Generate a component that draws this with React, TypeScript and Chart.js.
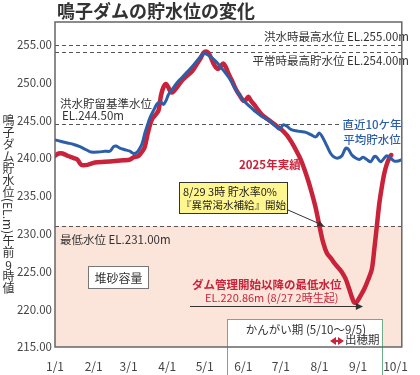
import React, { useEffect, useRef } from "react";
import { Chart, registerables } from "chart.js";

Chart.register(...registerables);

const JP = '"Noto Sans CJK JP", "Noto Sans", sans-serif';

// x axis: day of year (1/1 = 0)
const monthDays = [0, 31, 59, 90, 120, 151, 181, 212, 243, 273];
const monthLabels = ["1/1", "2/1", "3/1", "4/1", "5/1", "6/1", "7/1", "8/1", "9/1", "10/1"];
const yTickValues = [215, 220, 225, 230, 235, 240, 245, 250, 255];

// 2025 actual water level (EL.m)
const actualDays = [0, 3, 6, 10, 15, 18, 21, 26, 32, 40, 48, 55, 60, 63, 67, 70, 72, 74, 76, 78, 81, 83, 85, 87, 89, 91, 93, 95, 98, 102, 106, 110, 114, 117, 119, 121, 123, 125, 127, 129, 131, 133, 135, 137, 139, 142, 145, 148, 151, 153, 155, 157, 160, 163, 166, 170, 174, 178, 182, 186, 190, 194, 197, 200, 203, 206, 209, 212, 215, 218, 221, 224, 227, 230, 233, 236, 238, 240, 242, 245, 248, 251, 254, 256, 258, 260, 262, 264, 266, 268, 269.5];
const actualLevels = [240.3, 240.6, 240.6, 240.3, 240.0, 239.8, 239.1, 239.1, 239.4, 239.5, 239.6, 239.7, 239.8, 240.1, 240.3, 240.9, 241.5, 243.0, 244.3, 245.2, 245.8, 246.3, 248.3, 249.4, 249.8, 249.3, 248.7, 248.8, 249.4, 250.3, 250.9, 251.5, 252.5, 253.3, 253.9, 254.1, 253.9, 253.3, 252.5, 252.0, 251.8, 252.2, 252.5, 252.0, 251.2, 250.2, 249.1, 248.3, 247.6, 247.7, 248.1, 247.6, 247.0, 246.3, 245.7, 245.2, 244.7, 244.2, 243.7, 243.0, 242.0, 240.8, 239.8, 238.5, 237.0, 235.3, 233.4, 231.0, 228.8, 227.4, 226.8, 226.1, 225.5, 224.9, 224.0, 222.6, 221.6, 220.86, 221.0, 221.8, 222.7, 223.9, 225.3, 228.0, 231.0, 234.0, 236.2, 238.0, 239.2, 240.0, 240.4];

// recent 10-year average water level (EL.m)
const avgDays = [0, 5, 10, 15, 20, 25, 29, 35, 40, 44, 47, 49, 52, 56, 60, 63, 66, 68, 70, 72, 74, 76, 79, 82, 85, 87, 89, 91, 94, 98, 102, 106, 110, 114, 117, 119, 121, 124, 127, 130, 133, 136, 140, 143, 146, 149, 153, 157, 161, 165, 169, 173, 177, 180, 183, 186, 189, 193, 197, 201, 205, 209, 212, 215, 218, 221, 224, 227, 230, 233, 235, 238, 241, 244, 247, 250, 253, 256, 258, 261, 264, 266, 269, 272, 275, 278];
const avgLevels = [242.4, 242.2, 242.0, 241.8, 241.5, 241.1, 240.8, 240.8, 240.9, 240.9, 241.5, 241.6, 241.3, 241.1, 240.9, 240.6, 240.8, 241.3, 242.0, 243.3, 244.3, 245.3, 246.3, 247.2, 247.4, 247.1, 247.6, 248.4, 249.1, 250.0, 250.7, 251.4, 252.1, 252.9, 253.5, 253.8, 253.8, 253.5, 253.1, 252.6, 252.0, 251.4, 250.5, 249.6, 248.8, 248.1, 247.3, 246.7, 246.1, 245.6, 245.2, 244.8, 244.2, 243.8, 244.4, 244.2, 243.8, 243.6, 243.5, 243.4, 243.1, 242.8, 243.3, 242.6, 241.6, 240.6, 240.1, 240.0, 240.3, 241.3, 241.2, 240.4, 240.0, 239.8, 240.1, 239.8, 239.5, 240.2, 240.1, 239.5, 240.0, 240.3, 240.0, 239.6, 239.6, 239.8];

// reference levels (EL.m)
const refLevels = [255, 254, 244.5, 231];
const lowLevel = 231;

const TITLE = "鳴子ダムの貯水位の変化";

function txt(ctx: CanvasRenderingContext2D, s: string, x: number, y: number, font: string, color: string, align: CanvasTextAlign = "left") {
  ctx.font = font;
  ctx.fillStyle = color;
  ctx.textAlign = align;
  ctx.textBaseline = "middle";
  ctx.fillText(s, x, y);
}

function arrowHead(ctx: CanvasRenderingContext2D, x1: number, y1: number, x2: number, y2: number, size: number, color: string) {
  const ang = Math.atan2(y2 - y1, x2 - x1);
  ctx.fillStyle = color;
  ctx.beginPath();
  ctx.moveTo(x2, y2);
  ctx.lineTo(x2 - size * Math.cos(ang - 0.45), y2 - size * Math.sin(ang - 0.45));
  ctx.lineTo(x2 - size * Math.cos(ang + 0.45), y2 - size * Math.sin(ang + 0.45));
  ctx.closePath();
  ctx.fill();
}

const decor = {
  id: "decor",
  beforeDraw(chart: any) {
    const { ctx, chartArea: a, scales } = chart;
    const y = scales.y;
    ctx.save();
    const yLow = y.getPixelForValue(lowLevel);
    ctx.fillStyle = "#fbe5da";
    ctx.fillRect(a.left, yLow, a.right - a.left, a.bottom - yLow);
    // irrigation box
    ctx.fillStyle = "#ffffff";
    ctx.fillRect(227, 319, 155, 60);
    ctx.strokeStyle = "#6dae88";
    ctx.lineWidth = 1;
    ctx.strokeRect(227.5, 319.5, 155, 60);
    ctx.restore();
  },
  beforeDatasetsDraw(chart: any) {
    const { ctx, chartArea: a, scales } = chart;
    const y = scales.y;
    ctx.save();
    ctx.setLineDash([4, 3]);
    ctx.strokeStyle = "#555";
    ctx.lineWidth = 1.2;
    refLevels.forEach((v) => {
      const py = Math.round(y.getPixelForValue(v)) + 0.5;
      ctx.beginPath();
      ctx.moveTo(a.left, py);
      ctx.lineTo(a.right, py);
      ctx.stroke();
    });
    ctx.setLineDash([]);
    ctx.fillStyle = "#fff";
    ctx.fillRect(341, 119, 61, 10);
    ctx.restore();
  },
  afterDatasetsDraw(chart: any) {
    const { ctx, chartArea: a } = chart;
    ctx.save();
    const f = (s: number, w = "normal") => `${w} ${s}px ${JP}`;
    txt(ctx, "洪水時最高水位 EL.255.00m", 409, 37, f(11.5), "#333", "right");
    txt(ctx, "平常時最高貯水位 EL.254.00m", 409, 61, f(11.5), "#333", "right");
    txt(ctx, "洪水貯留基準水位", 60, 104, f(11.5), "#333");
    txt(ctx, "EL.244.50m", 62, 116, f(11.5), "#333");
    txt(ctx, "直近10ケ年", 372, 125, f(11.5, "500"), "#2c5fa8", "center");
    txt(ctx, "平均貯水位", 372, 140, f(11.5, "500"), "#2c5fa8", "center");
    txt(ctx, "2025年実績", 239, 165, f(11.5, "bold"), "#c8233a");
    txt(ctx, "最低水位 EL.231.00m", 60, 240, f(11.5), "#333");

    // yellow box
    ctx.fillStyle = "#fff68f";
    ctx.fillRect(179.5, 182.5, 108, 31);
    ctx.strokeStyle = "#333";
    ctx.lineWidth = 1;
    ctx.strokeRect(179.5, 182.5, 108, 31);
    txt(ctx, "8/29 3時 貯水率0%", 183, 192, f(11), "#222");
    txt(ctx, "『異常渇水補給』開始", 181, 205, f(10.5), "#222");
    ctx.strokeStyle = "#333";
    ctx.lineWidth = 1;
    ctx.beginPath();
    ctx.moveTo(288, 210);
    ctx.lineTo(320, 224);
    ctx.stroke();
    arrowHead(ctx, 288, 210, 324, 226, 7, "#333");

    // sediment box
    ctx.fillStyle = "#fff";
    ctx.fillRect(88.5, 266.5, 60, 22);
    ctx.strokeStyle = "#777";
    ctx.strokeRect(88.5, 266.5, 60, 22);
    txt(ctx, "堆砂容量", 118.5, 278, f(12), "#333", "center");

    txt(ctx, "ダム管理開始以降の最低水位", 192, 285, f(11.5, "bold"), "#c8233a");
    txt(ctx, "EL.220.86m (8/27 2時生起)", 205, 298, f(11), "#c8233a");
    ctx.strokeStyle = "#333";
    ctx.lineWidth = 1.2;
    ctx.beginPath();
    ctx.moveTo(190, 306.5);
    ctx.lineTo(357, 306.5);
    ctx.stroke();
    arrowHead(ctx, 190, 306.5, 363, 306.5, 8, "#333");

    txt(ctx, "かんがい期 (5/10～9/5)", 306, 330, f(11.5), "#333", "center");
    // heading period double arrow
    ctx.fillStyle = "#c8233a";
    ctx.beginPath();
    ctx.moveTo(330, 341);
    ctx.lineTo(336, 337);
    ctx.lineTo(336, 345);
    ctx.closePath();
    ctx.fill();
    ctx.beginPath();
    ctx.moveTo(344, 341);
    ctx.lineTo(338, 337);
    ctx.lineTo(338, 345);
    ctx.closePath();
    ctx.fill();
    ctx.fillRect(334, 340, 6, 2);
    txt(ctx, "出穂期", 345, 340, f(11.5), "#333");

    // frame
    ctx.strokeStyle = "#666";
    ctx.lineWidth = 1.5;
    ctx.strokeRect(a.left, a.top, a.right - a.left, a.bottom - a.top);

    // title
    txt(ctx, TITLE, 57, 11, f(18, "bold"), "#333");
    ctx.restore();
  },
};

export default function App() {
  const ref = useRef<HTMLCanvasElement | null>(null);
  useEffect(() => {
    if (!ref.current) return;
    const chart = new Chart(ref.current, {
      type: "line",
      data: {
        datasets: [
          {
            label: "直近10ケ年平均貯水位",
            data: avgDays.map((d, i) => ({ x: d, y: avgLevels[i] })),
            borderColor: "#2c5fa8",
            borderWidth: 3,
            pointRadius: 0,
            tension: 0.3,
            borderJoinStyle: "round",
            borderCapStyle: "round",
          },
          {
            label: "2025年実績",
            data: actualDays.map((d, i) => ({ x: d, y: actualLevels[i] })),
            borderColor: "#c8233a",
            borderWidth: 4.5,
            pointRadius: 0,
            tension: 0.3,
            borderJoinStyle: "round",
            borderCapStyle: "round",
          },
        ],
      },
      options: {
        responsive: false,
        animation: false,
        layout: { padding: { top: 22, right: 6, left: 0, bottom: 0 } },
        plugins: { legend: { display: false }, tooltip: { enabled: false } },
        scales: {
          x: {
            type: "linear",
            min: 0,
            max: 278,
            grid: { display: false, drawTicks: false },
            border: { display: false },
            afterFit: (s: any) => { s.height = 28; },
            afterBuildTicks: (s: any) => { s.ticks = monthDays.map((v) => ({ value: v })); },
            ticks: {
              autoSkip: false,
              maxRotation: 0,
              padding: 12,
              color: "#444",
              font: { family: JP, size: 12 },
              callback: (v: any) => {
                const i = monthDays.indexOf(Number(v));
                return i >= 0 ? monthLabels[i] : "";
              },
            },
          },
          y: {
            min: 215,
            max: 258,
            grid: { display: false, drawTicks: false },
            border: { display: false },
            afterFit: (s: any) => { s.width = 55; },
            afterBuildTicks: (s: any) => { s.ticks = yTickValues.map((v) => ({ value: v })); },
            ticks: {
              padding: 3,
              color: "#444",
              font: { family: JP, size: 11.5 },
              callback: (v: any) => Number(v).toFixed(2),
            },
          },
        },
      },
      plugins: [decor],
    });
    return () => chart.destroy();
  }, []);
  return (
    <div style={{ position: "absolute", left: 0, top: 0, width: 420, height: 375, background: "#fff" }}>
      <canvas ref={ref} width={420} height={375} style={{ display: "block" }} />
      <div
        style={{
          position: "absolute",
          left: 1,
          top: 114,
          writingMode: "vertical-rl",
          fontFamily: JP,
          fontSize: 12,
          lineHeight: "14px",
          color: "#333",
          whiteSpace: "nowrap",
        }}
      >
        鳴子ダム貯水位(EL.m)午前<span style={{ textCombineUpright: "all" } as any}>9</span>時値
      </div>
    </div>
  );
}
